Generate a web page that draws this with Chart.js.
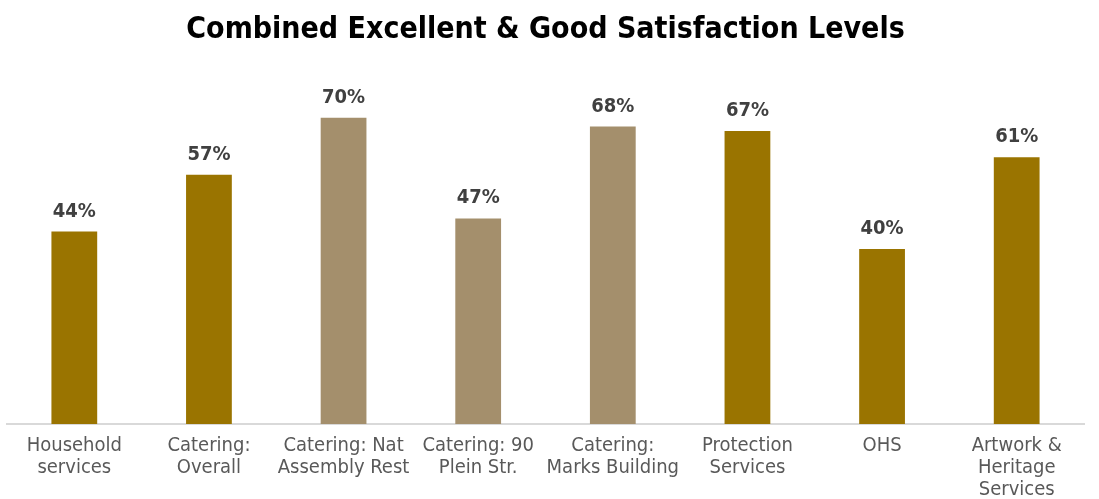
<!DOCTYPE html>
<html lang="en">
<head>
    <meta charset="UTF-8">
    <title>Combined Excellent & Good Satisfaction Levels</title>
    <script src="https://cdn.jsdelivr.net/npm/chart.js"></script>
    <style>
        html, body { margin: 0; padding: 0; background: #fff; }
        #wrap { width: 1099px; height: 499px; }
    </style>
</head>
<body>
    <div id="wrap"><canvas id="satChart"></canvas></div>

    <script>
        const categories = [
            ['Household', 'services'],
            ['Catering:', 'Overall'],
            ['Catering: Nat', 'Assembly Rest'],
            ['Catering: 90', 'Plein Str.'],
            ['Catering:', 'Marks Building'],
            ['Protection', 'Services'],
            ['OHS'],
            ['Artwork &', 'Heritage', 'Services']
        ];
        const satisfaction = [44, 57, 70, 47, 68, 67, 40, 61];
        const isCatering = [false, false, true, true, true, false, false, false];

        const GOLD = '#9a7400';
        const TAN = '#a48f6c';
        const FONT = "'DejaVu Sans Condensed', 'Liberation Sans Narrow', sans-serif";

        // draws the percentage above each bar
        const valueLabels = {
            id: 'valueLabels',
            afterDatasetsDraw(chart) {
                const ctx = chart.ctx;
                const meta = chart.getDatasetMeta(0);
                ctx.save();
                ctx.font = 'bold 20px ' + FONT;
                ctx.fillStyle = '#404040';
                ctx.textAlign = 'center';
                ctx.textBaseline = 'alphabetic';
                meta.data.forEach((bar, i) => {
                    ctx.fillText(satisfaction[i] + '%', bar.x, bar.y - 15);
                });
                ctx.restore();
            }
        };

        new Chart(document.getElementById('satChart'), {
            type: 'bar',
            data: {
                labels: categories,
                datasets: [{
                    data: satisfaction,
                    backgroundColor: isCatering.map(c => c ? TAN : GOLD),
                    barPercentage: 1,
                    categoryPercentage: 0.34
                }]
            },
            options: {
                responsive: true,
                maintainAspectRatio: false,
                animation: false,
                layout: { padding: { left: 7, right: 15, top: 0, bottom: -5 } },
                plugins: {
                    legend: { display: false },
                    tooltip: { enabled: false },
                    title: {
                        display: true,
                        text: 'Combined Excellent & Good Satisfaction Levels',
                        color: '#000',
                        font: { family: FONT, size: 30, weight: 'bold' },
                        padding: { top: 12, bottom: 26 }
                    }
                },
                scales: {
                    x: {
                        grid: { display: false },
                        border: { color: '#d9d9d9', width: 2 },
                        ticks: {
                            color: '#595959',
                            font: { family: FONT, size: 20, lineHeight: 1.1 },
                            padding: 3,
                            maxRotation: 0,
                            autoSkip: false
                        }
                    },
                    y: {
                        display: false,
                        min: 0,
                        max: 80
                    }
                }
            },
            plugins: [valueLabels]
        });
    </script>
</body>
</html>
